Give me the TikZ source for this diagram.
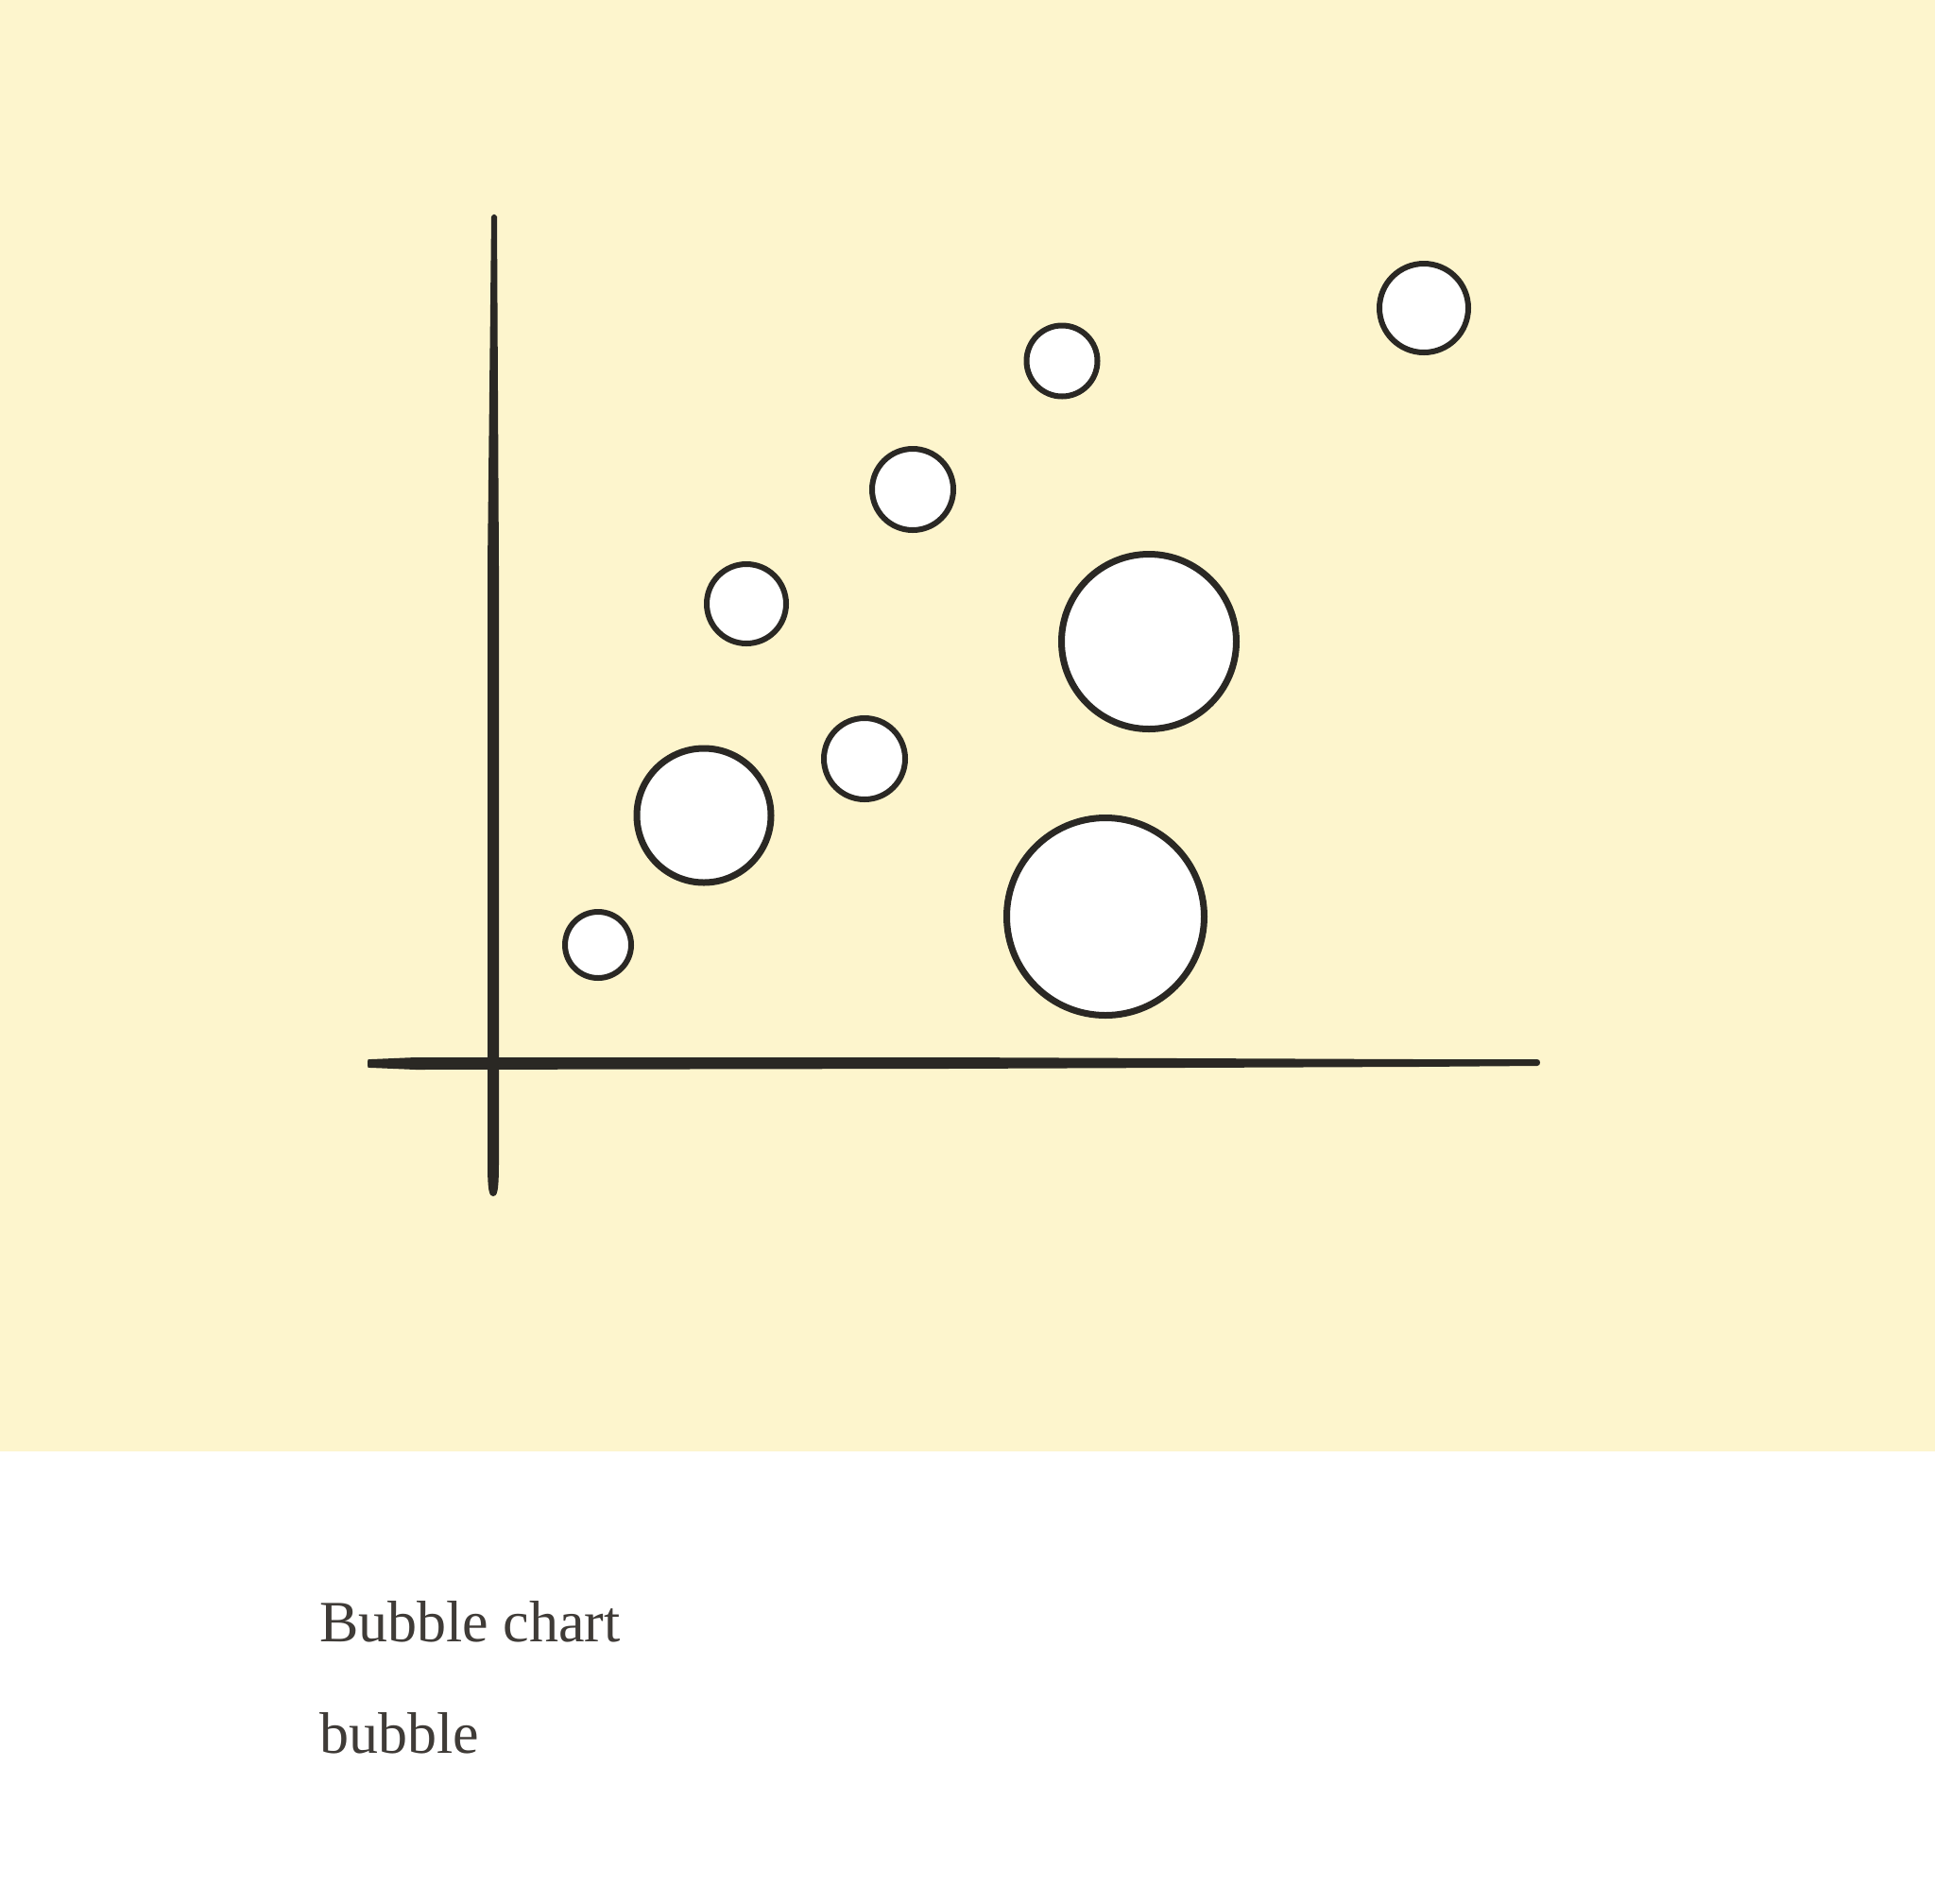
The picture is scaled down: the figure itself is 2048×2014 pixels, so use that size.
\documentclass[tikz,border=0pt]{standalone}
\usepackage{fontspec}
\setmainfont{Liberation Serif}
\definecolor{bgyellow}{HTML}{FDF5CD}
\definecolor{ink}{HTML}{2A2824}
\definecolor{txt}{HTML}{3F3B37}
\tikzset{
  bubble/.style={circle, draw=ink, fill=white, line width=6pt, inner sep=0pt},
  bigbubble/.style={bubble, line width=7pt},
  axisfill/.style={fill=ink, draw=none},
  caption/.style={anchor=base west, text=txt, font=\fontsize{62}{64}\selectfont, inner sep=0pt}
}
\begin{document}
\begin{tikzpicture}[x=1pt,y=-1pt]
\useasboundingbox (0,0) rectangle (2048,2014);
\fill[white] (0,0) rectangle (2048,2014);
\fill[bgyellow] (0,0) rectangle (2048,1536);
% vertical axis
\fill[axisfill] (520,229) .. controls (523,226) .. (526,229)
  -- (528,600) -- (528,1230) .. controls (528,1262) and (526,1266) .. (522,1266)
  .. controls (518,1266) and (516,1262) .. (516,1230) -- (516,600) -- cycle;
% horizontal axis
\fill[axisfill] (389,1124) .. controls (389,1121) .. (393,1121)
  -- (440,1119) -- (1000,1119) -- (1500,1121) -- (1627,1121)
  .. controls (1631,1121) and (1631,1128) .. (1627,1128)
  -- (1500,1129) -- (1000,1131) -- (440,1132) -- (393,1130)
  .. controls (389,1130) .. (389,1127) -- cycle;
% bubbles
\node[bubble, minimum size=70pt] (b1) at (633,1000) {};
\node[bigbubble, minimum size=142pt] (b2) at (745,863) {};
\node[bubble, minimum size=84pt] (b3) at (790,639) {};
\node[bubble, minimum size=86pt] (b4) at (915,803) {};
\node[bubble, minimum size=86pt] (b5) at (966,518) {};
\node[bubble, minimum size=75pt] (b6) at (1124,382) {};
\node[bubble, minimum size=94pt] (b7) at (1507,326) {};
\node[bigbubble, minimum size=185pt] (b8) at (1216,679) {};
\node[bigbubble, minimum size=209pt] (b9) at (1170,970) {};
% captions
\node[caption] (t1) at (338,1737) {Bubble chart};
\node[caption] (t2) at (338,1855) {bubble};
\end{tikzpicture}
\end{document}
